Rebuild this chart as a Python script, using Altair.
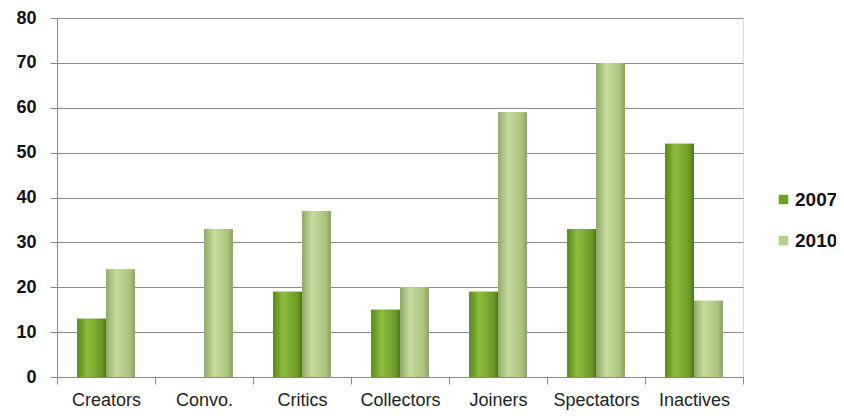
import altair as alt
import pandas as pd

categories = ["Creators", "Convo.", "Critics", "Collectors", "Joiners", "Spectators", "Inactives"]
years = ["2007", "2010"]
values_2007 = [13, None, 19, 15, 19, 33, 52]
values_2010 = [24, 33, 37, 20, 59, 70, 17]
y_ticks = [0, 10, 20, 30, 40, 50, 60, 70, 80]

rows = []
for c, a, b in zip(categories, values_2007, values_2010):
    rows.append({"category": c, "year": "2007", "value": a})
    rows.append({"category": c, "year": "2010", "value": b})
df = pd.DataFrame(rows)

grid_col = "#8a8a8a"

x_enc = alt.X(
    "category:N", sort=categories, title=None,
    scale=alt.Scale(paddingInner=0, paddingOuter=0),
    axis=alt.Axis(labelAngle=0, tickBand="extent", tickSize=7, tickColor=grid_col,
                  domainColor=grid_col, labelFontSize=18, labelColor="#222222",
                  labelFont="Liberation Sans", labelPadding=7, grid=False),
)
xo_enc = alt.XOffset("year:N", sort=years, scale=alt.Scale(paddingInner=0, paddingOuter=0.7))
y_enc = alt.Y(
    "value:Q", title=None,
    scale=alt.Scale(domain=[0, 80], nice=False),
    axis=alt.Axis(values=y_ticks, grid=True, gridColor=grid_col, tickColor=grid_col, tickSize=7,
                  domainColor=grid_col, labelFontSize=18, labelFontWeight="bold",
                  labelColor="#111111", labelFont="Liberation Sans", labelPadding=14),
)

base = alt.Chart(df)

solid = base.mark_bar().encode(
    x=x_enc, xOffset=xo_enc, y=y_enc,
    color=alt.Color("year:N", sort=years, title=None,
                    scale=alt.Scale(domain=years, range=["#6f9f2a", "#b5cf86"]),
                    legend=alt.Legend(orient="none", legendX=717, legendY=172,
                                      symbolType="square", symbolSize=90,
                                      labelFontSize=19, labelFontWeight="bold",
                                      labelFont="Liberation Sans", labelColor="#111111",
                                      labelOffset=2,
                                      rowPadding=21, symbolStrokeWidth=0)),
)

grad_2007 = alt.LinearGradient(
    gradient="linear", x1=0, x2=1, y1=0, y2=0,
    stops=[alt.GradientStop(offset=0, color="#5b881c"),
           alt.GradientStop(offset=0.35, color="#8dbd3c"),
           alt.GradientStop(offset=0.85, color="#6a9a26"),
           alt.GradientStop(offset=1, color="#4e7616")],
)
grad_2010 = alt.LinearGradient(
    gradient="linear", x1=0, x2=1, y1=0, y2=0,
    stops=[alt.GradientStop(offset=0, color="#8fa96a"),
           alt.GradientStop(offset=0.35, color="#c6dc9c"),
           alt.GradientStop(offset=0.85, color="#a8c07e"),
           alt.GradientStop(offset=1, color="#86a05e")],
)

g1 = base.transform_filter(alt.datum.year == "2007").mark_bar(fill=grad_2007).encode(
    x=x_enc, xOffset=xo_enc, y=y_enc)
g2 = base.transform_filter(alt.datum.year == "2010").mark_bar(fill=grad_2010).encode(
    x=x_enc, xOffset=xo_enc, y=y_enc)

chart = alt.layer(solid, g1, g2).properties(
    width=686, height=359,
    autosize=alt.AutoSizeParams(type="none"),
    padding={"left": 49, "top": 10, "right": 93, "bottom": 34},
).configure_view(stroke=None).configure(background="white")

chart.save("out.html", embed_options={"renderer": "svg", "actions": False})
